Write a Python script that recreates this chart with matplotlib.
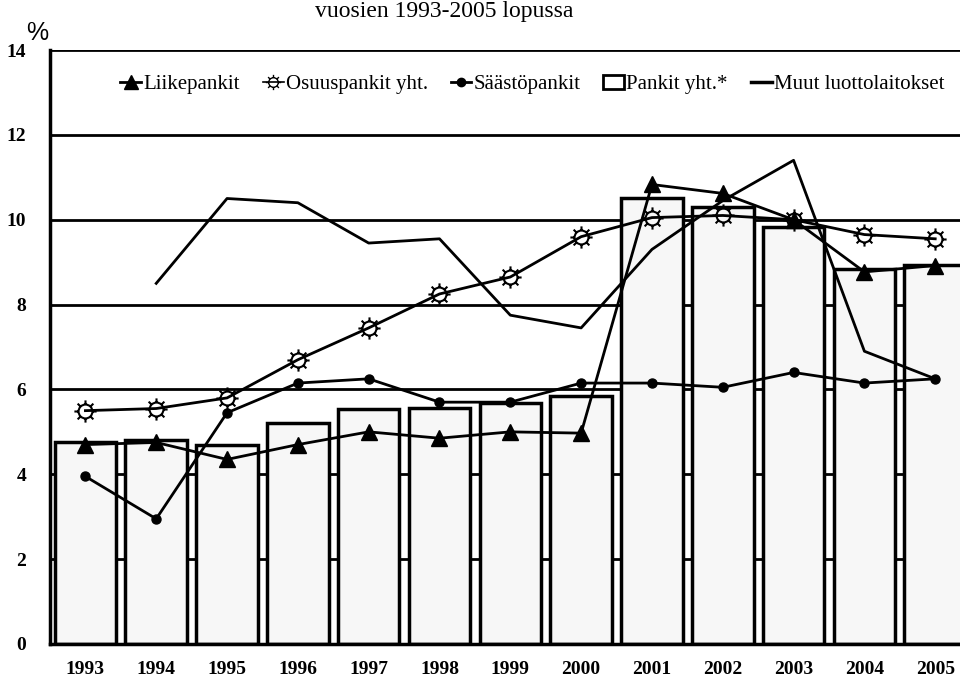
import matplotlib
matplotlib.use("Agg")
import matplotlib.pyplot as plt
import numpy as np
from matplotlib.path import Path
from matplotlib.lines import Line2D
from matplotlib.patches import Patch

# data
years = [1993, 1994, 1995, 1996, 1997, 1998, 1999, 2000, 2001, 2002, 2003, 2004, 2005]
pankit_yht = [4.76, 4.8, 4.69, 5.2, 5.54, 5.57, 5.68, 5.85, 10.52, 10.3, 9.83, 8.84, 8.94]
liikepankit = [4.7, 4.75, 4.35, 4.7, 5.0, 4.85, 5.0, 4.97, 10.83, 10.62, 10.0, 8.77, 8.92]
osuuspankit = [5.5, 5.55, 5.8, 6.7, 7.45, 8.25, 8.65, 9.6, 10.05, 10.1, 10.0, 9.65, 9.55]
saastopankit = [3.95, 2.95, 5.45, 6.15, 6.25, 5.7, 5.7, 6.15, 6.15, 6.05, 6.4, 6.15, 6.25]
muut_years = [1994, 1995, 1996, 1997, 1998, 1999, 2000, 2001, 2002, 2003, 2004, 2005]
muut = [8.5, 10.5, 10.4, 9.45, 9.55, 7.75, 7.45, 9.3, 10.45, 11.4, 6.9, 6.25]

# sun-like marker: circle with 8 spokes
circ = Path.unit_circle()
spokes = []
for a in np.arange(0, 2 * np.pi, np.pi / 4):
    c, s = np.cos(a), np.sin(a)
    spokes.append(Path([(c * 1.0, s * 1.0), (c * 1.6, s * 1.6)], [Path.MOVETO, Path.LINETO]))
sun = Path.make_compound_path(circ, *spokes)

plt.rcParams['font.family'] = ['Liberation Serif', 'DejaVu Serif']

fig = plt.figure(figsize=(9.6, 6.84), dpi=100)
ax = fig.add_axes([50 / 960, 1 - 644 / 684, 1 - 50 / 960, (644 - 50) / 684])

for g in [2, 4, 6, 8, 10, 12, 14]:
    ax.axhline(g, color='black', lw=2.0, zorder=1)

ax.bar(years, pankit_yht, width=0.87, color='#f7f7f7', edgecolor='black', linewidth=2.5, zorder=2)

ax.plot(muut_years, muut, color='black', lw=2.0, zorder=3)
ax.plot(years, saastopankit, color='black', lw=2.0, marker='o', markersize=6.5, zorder=4)
ax.plot(years, osuuspankit, color='black', lw=2.0, marker=sun, markersize=16,
        markerfacecolor='none', markeredgewidth=1.5, zorder=4)
ax.plot(years, liikepankit, color='black', lw=2.0, marker='^', markersize=11, zorder=5)

ax.set_xlim(1992.5, 2005.35)
ax.set_ylim(0, 14)
ax.set_yticks([0, 2, 4, 6, 8, 10, 12, 14])
ax.set_xticks(years)
ax.tick_params(length=0, labelsize=14, pad=12)
ax.tick_params(axis='y', pad=17)
for lab in ax.get_xticklabels() + ax.get_yticklabels():
    lab.set_fontweight('bold')
for sp in ['top', 'right']:
    ax.spines[sp].set_visible(False)
for sp in ['left', 'bottom']:
    ax.spines[sp].set_linewidth(2.5)

handles = [
    Line2D([], [], color='black', lw=2, marker='^', markersize=10),
    Line2D([], [], color='black', lw=1.2, marker=sun, markersize=11, markerfacecolor='none'),
    Line2D([], [], color='black', lw=2, marker='o', markersize=6),
    Patch(facecolor='white', edgecolor='black', linewidth=2),
    Line2D([], [], color='black', lw=2.5),
]
labels = ['Liikepankit', 'Osuuspankit yht.', 'Säästöpankit', 'Pankit yht.*', 'Muut luottolaitokset']
ax.legend(handles, labels, loc='upper center', bbox_to_anchor=(0.53, 0.99), ncol=5, frameon=False,
          fontsize=15, handlelength=1.0, handletextpad=0.1, columnspacing=1.1)

fig.text(444 / 960, 1 - 12 / 684, 'vuosien 1993-2005 lopussa', ha='center', va='center', fontsize=17)
fig.text(26 / 960, 1 - 33 / 684, '%', ha='left', va='center', fontsize=18, family='Liberation Sans')

fig.savefig('out.png', dpi=100)
